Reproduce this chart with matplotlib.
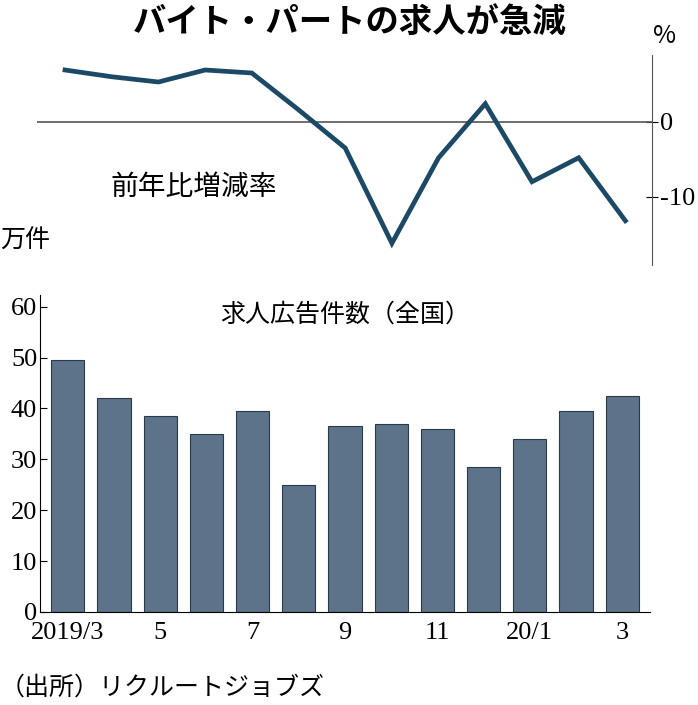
import matplotlib
matplotlib.use("Agg")
import matplotlib.pyplot as plt
import numpy as np

plt.rcParams['font.family'] = ['Noto Sans CJK JP', 'DejaVu Sans']

months = ['2019/3','4','5','6','7','8','9','10','11','12','20/1','2','3']
tick_labels = ['2019/3','','5','','7','','9','','11','','20/1','','3']
ads = [49.5, 42, 38.5, 35, 39.5, 25, 36.5, 37, 36, 28.5, 34, 39.5, 42.5]
yoy = [6.9, 6.0, 5.3, 6.9, 6.5, 1.6, -3.5, -16.2, -4.8, 2.4, -8.0, -4.8, -13.2]

W, H = 698, 705
fig = plt.figure(figsize=(W/100, H/100), dpi=100)
x = np.arange(len(months))

def ax_rect(l, t, r, b):
    return [l/W, 1-b/H, (r-l)/W, (b-t)/H]

# bar chart
ax = fig.add_axes(ax_rect(40, 295, 650, 612))
ax.bar(x, ads, width=0.72, color='#5d7389', edgecolor='#2a3a48', linewidth=0.8)
ax.set_xlim(-0.6, len(x)-0.4)
ax.set_ylim(0, 62.3)
ax.set_yticks(range(0, 61, 10))
ax.set_xticks(x)
ax.set_xticklabels(tick_labels, fontsize=19, family=['Liberation Serif'])
ax.tick_params(axis='y', labelsize=19, direction='in', length=5, pad=2)
for lab in ax.get_yticklabels():
    lab.set_family('Liberation Serif')
ax.tick_params(axis='x', length=0, pad=7)
for s in ['top', 'right']:
    ax.spines[s].set_visible(False)
ax.text(0.5, 0.98, '求人広告件数（全国）', transform=ax.transAxes, ha='center', va='top', fontsize=18)

# line chart
ax2 = fig.add_axes(ax_rect(37, 55, 652, 265))
ax2.set_xlim(-0.6, len(x)-0.4 - 0.03)
ax2.set_ylim(-19.1, 8.9)
ax2.axhline(0, color='#555555', lw=1.2)
ax2.plot(x, yoy, color='#1c4a66', lw=3.4, solid_joinstyle='miter')
ax2.patch.set_visible(False)
for s in ['top', 'left', 'bottom']:
    ax2.spines[s].set_visible(False)
ax2.spines['right'].set_color('#555555')
ax2.yaxis.tick_right()
ax2.set_yticks([0, -10])
ax2.set_yticklabels(['0', '-10'], family=['Liberation Serif'])
ax2.tick_params(axis='y', labelsize=19, direction='inout', length=8, pad=2)
ax2.set_xticks([])
ax2.text(1.02, 1.03, '%', transform=ax2.transAxes, ha='center', va='bottom', fontsize=18)
ax2.text(0.12, 0.37, '前年比増減率', transform=ax2.transAxes, ha='left', va='center', fontsize=20)

fig.text(350/W, 1-22/H, 'バイト・パートの求人が急減', ha='center', va='center', fontsize=24, fontweight='bold')
fig.text(0/W, 1-241/H, '万件', ha='left', va='center', fontsize=18)
fig.text(0/W, 1-688/H, '（出所）リクルートジョブズ', ha='left', va='center', fontsize=18)

fig.savefig('out.png', dpi=100)
